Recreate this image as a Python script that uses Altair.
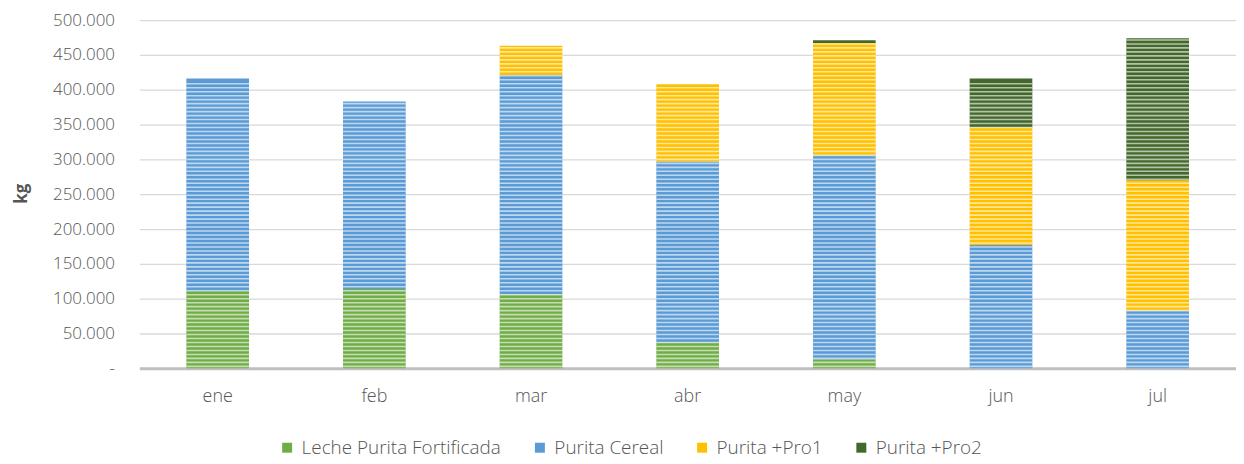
import altair as alt
import numpy as np
import pandas as pd

months = ["ene", "feb", "mar", "abr", "may", "jun", "jul"]
series_names = ["Leche Purita Fortificada", "Purita Cereal", "Purita +Pro1", "Purita +Pro2"]
leche = [111000, 114000, 106000, 37000, 13000, 0, 0]
cereal = [305000, 269000, 315000, 260000, 293000, 177000, 83000]
pro1 = [0, 0, 42000, 111000, 161000, 169000, 187000]
pro2 = [0, 0, 0, 0, 4000, 70000, 204000]
y_ticks = list(range(0, 500001, 50000))

colors = ["#70AD47", "#5B9BD5", "#FFC000", "#43682B"]

W = 1102
H = 350
FONT = "Open Sans"
TXT = "#555555"
FW = 300

rows = []
for i, m in enumerate(months):
    for k, (name, vals) in enumerate(zip(series_names, [leche, cereal, pro1, pro2])):
        rows.append({"month": m, "series": name, "value": vals[i], "order": k})
df = pd.DataFrame(rows)

# decorative horizontal stripe pattern (every 4 px) over each bar
stripe_step = 500000 * 4 / H
srows = []
for i, m in enumerate(months):
    total = leche[i] + cereal[i] + pro1[i] + pro2[i]
    for yv in np.arange(stripe_step * 0.5, total - stripe_step * 0.3, stripe_step):
        srows.append({"month": m, "y": float(yv)})
sdf = pd.DataFrame(srows)
bw = W / 7 * 0.4

xscale = alt.Scale(domain=months, paddingInner=0.6, paddingOuter=0.3)
yscale = alt.Scale(domain=[0, 500000], nice=False)

xaxis = alt.Axis(title=None, labelAngle=0, ticks=False, grid=False,
                 domainColor="#BFBFBF", domainWidth=3,
                 labelPadding=19, labelFont=FONT, labelFontSize=18,
                 labelFontWeight=FW, labelColor=TXT)
yaxis = alt.Axis(values=y_ticks, title="kg", domain=False, ticks=False,
                 gridColor="#D9D9D9", gridWidth=1.3, labelOverlap=False,
                 labelExpr="datum.value == 0 ? '-' : replace(format(datum.value, ','), ',', '.')",
                 labelPadding=25, labelFont=FONT, labelFontSize=17,
                 labelFontWeight=FW, labelColor=TXT,
                 titleFont=FONT, titleFontSize=17, titleFontWeight="bold",
                 titleColor=TXT, titleAngle=270, titleX=-118, titleY=174,
                 titleAlign="center", titleBaseline="middle")

bars = alt.Chart(df).mark_bar().encode(
    x=alt.X("month:N", sort=months, scale=xscale, axis=xaxis),
    y=alt.Y("value:Q", stack="zero", scale=yscale, axis=yaxis),
    color=alt.Color("series:N", sort=series_names,
                    scale=alt.Scale(domain=series_names, range=colors),
                    legend=alt.Legend(title=None, orient="none", legendX=139, legendY=420,
                                      direction="horizontal", symbolType="square",
                                      symbolSize=100, symbolStrokeWidth=0,
                                      labelFont=FONT, labelFontSize=19, labelFontWeight=FW,
                                      labelColor=TXT, labelLimit=0,
                                      columnPadding=29, labelOffset=5)),
    order=alt.Order("order:Q"),
)

stripes = alt.Chart(sdf).mark_tick(color="white", opacity=0.6, thickness=1.6, size=bw).encode(
    x=alt.X("month:N", sort=months, scale=xscale, axis=xaxis),
    y=alt.Y("y:Q", scale=yscale, axis=yaxis),
)

chart = alt.layer(bars, stripes).properties(
    width=W, height=H,
    autosize=alt.AutoSizeParams(type="none"),
    padding={"left": 132, "top": 11, "right": 0, "bottom": 95},
).configure_view(stroke=None)

chart.save("out.html", embed_options={"renderer": "svg", "actions": False})
